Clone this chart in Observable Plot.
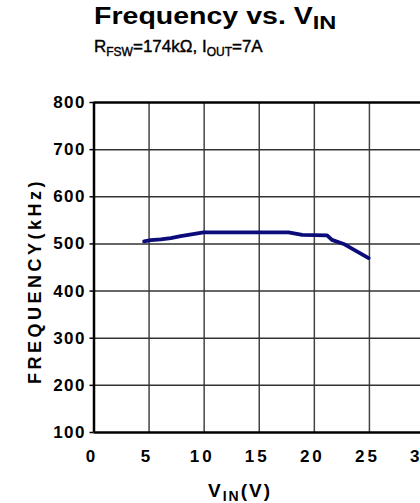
<!DOCTYPE html>
<html><head><meta charset="utf-8">
<script src="https://cdn.jsdelivr.net/npm/d3@7"></script>
<script src="https://cdn.jsdelivr.net/npm/@observablehq/plot@0.6"></script>
<style>
body{margin:0;overflow:hidden;background:#fff;font-family:"Liberation Sans",Arial,sans-serif;}
#wrap{position:relative;width:420px;height:503px;overflow:hidden;background:#fff}
#chart{position:absolute;left:0;top:0;width:440px}
#chart svg{max-width:none !important}
#chart svg text{letter-spacing:1.5px}
#chart svg g[aria-label="x-axis tick label"] text{letter-spacing:3px}
.t{position:absolute;font-weight:bold;color:#000;white-space:nowrap;line-height:1}
#title{left:94px;top:5px;font-size:23px;transform:scaleX(1.24);transform-origin:left top}
#title sub{font-size:19px;vertical-align:-5px}
#subtitle{left:94px;top:38px;font-size:17px;font-weight:normal;-webkit-text-stroke:0.4px #000}
#subtitle sub{font-size:12px;vertical-align:-4px}
#ylab{left:35px;top:281px;font-size:18px;letter-spacing:3.5px;transform:translate(-50%,-50%) rotate(-90deg)}
#xlab{left:240px;top:481px;font-size:19px;letter-spacing:2px;transform:translateX(-50%)}
#xlab sub{font-size:14px;vertical-align:-4px}
</style>
</head><body>
<div id="wrap">
<div id="chart"></div>
<div class="t" id="title">Frequency vs. V<sub>IN</sub></div>
<div class="t" id="subtitle">R<sub>FSW</sub>=174kΩ, I<sub>OUT</sub>=7A</div>
<div class="t" id="ylab">FREQUENCY(kHz)</div>
<div class="t" id="xlab">V<sub>IN</sub>(V)</div>
</div>
<script>
const vin  = [4.55, 5.15, 6.06, 6.97, 7.87, 9.95, 12, 15, 17.65, 18.9, 20, 21.16, 21.6, 22.66, 24.93];
const freq = [505.5, 508, 509.5, 512.3, 516.5, 524.6, 524.6, 524.6, 524.6, 519, 518.5, 518, 508.5, 500, 470];
const xTicks = [0, 5, 10, 15, 20, 25, 30];
const yTicks = [100, 200, 300, 400, 500, 600, 700, 800];

const data = vin.map((v, i) => ({v, f: freq[i]}));
const chart = Plot.plot({
  width: 440, height: 503,
  marginLeft: 93.5, marginRight: 16, marginTop: 102, marginBottom: 71,
  x: {domain: [0, 30]},
  y: {domain: [100, 800]},
  style: {fontFamily: '"Liberation Sans", Arial, sans-serif', fontSize: "17px", fontWeight: "bold", color: "#000", background: "transparent", maxWidth: "none"},
  marks: [
    Plot.ruleX(xTicks.slice(1, -1), {stroke: "#444", strokeWidth: 1.5}),
    Plot.ruleY(yTicks.slice(1, -1), {stroke: "#333", strokeWidth: 1.5}),
    Plot.line(data, {x: "v", y: "f", stroke: "#0b0b7a", strokeWidth: 3.8, strokeLinejoin: "round"}),
    Plot.ruleY([800], {stroke: "#000", strokeWidth: 2.5}),
    Plot.ruleY([100], {stroke: "#000", strokeWidth: 2.5}),
    Plot.ruleX([0], {stroke: "#000", strokeWidth: 2.5}),
    Plot.ruleX([30], {stroke: "#000", strokeWidth: 2.5}),
    Plot.axisY(yTicks, {tickSize: 4, tickPadding: 4, fontSize: 17, fontWeight: "bold", label: null, stroke: "#000", strokeWidth: 1.5}),
    Plot.axisX(xTicks, {tickSize: 0, tickPadding: 17, fontSize: 17, fontWeight: "bold", label: null, dx: -2})
  ]
});
document.getElementById("chart").appendChild(chart);
</script>
</body></html>
